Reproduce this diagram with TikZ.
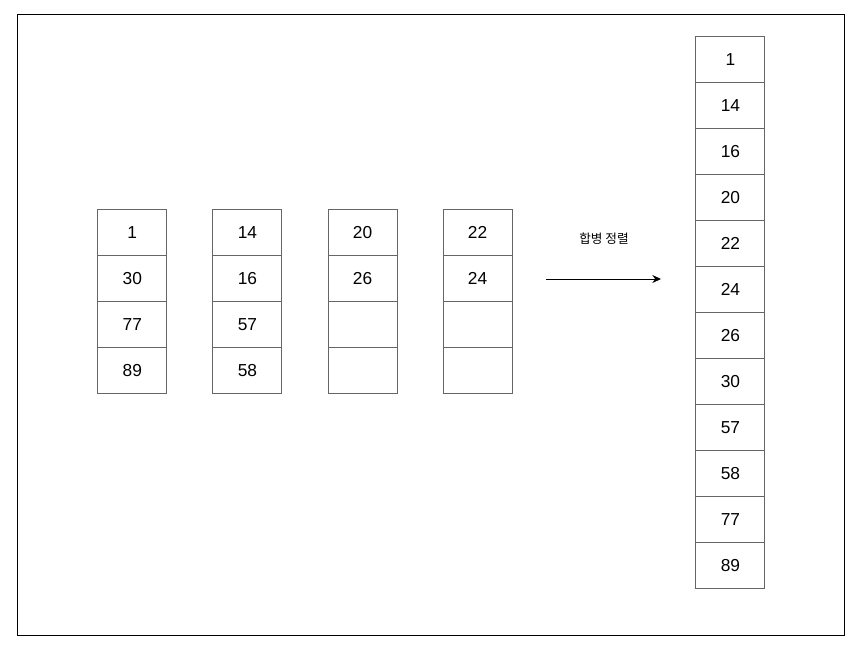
\documentclass[tikz,border=0pt]{standalone}
\usepackage{fontspec}
\setmainfont{Liberation Sans}
\newfontfamily\krfont{Noto Sans CJK KR}
\usetikzlibrary{positioning,arrows.meta}
\definecolor{cellGray}{RGB}{102, 102, 102}
\definecolor{darkText}{RGB}{0, 0, 0}

\begin{document}
\begin{tikzpicture}[x=0.75pt,y=-0.75pt,
    cellbox/.style={draw=cellGray,line width=0.75pt,minimum width=51.75pt,minimum height=34.5pt,
                    inner sep=0pt,outer sep=0pt,font=\fontsize{13}{15}\selectfont,text=darkText},
    mergearrow/.style={-{Stealth[length=6.5pt,width=6pt]},line width=0.75pt}]
        \useasboundingbox (0,0) rectangle (859,654);
        \node[draw=black,line width=0.75pt,minimum width=620.25pt,minimum height=465.75pt,
              inner sep=0pt] (frame) at (431,324.5) {};

        % four runs
        \foreach \v [count=\i] in {1,30,77,89}
            \node[cellbox] (a\i) at (132.3,{209.5+23+46*(\i-1)}) {\v};
        \foreach \v [count=\i] in {14,16,57,58}
            \node[cellbox] (b\i) at (247.4,{209.5+23+46*(\i-1)}) {\v};
        \foreach \v [count=\i] in {20,26,{},{}}
            \node[cellbox] (c\i) at (362.5,{209.5+23+46*(\i-1)}) {\v};
        \foreach \v [count=\i] in {22,24,{},{}}
            \node[cellbox] (d\i) at (477.5,{209.5+23+46*(\i-1)}) {\v};

        % merged result
        \foreach \v [count=\i] in {1,14,16,20,22,24,26,30,57,58,77,89}
            \node[cellbox] (m\i) at (730.4,{36.7+23+46*(\i-1)}) {\v};

        \coordinate (arrowStart) at (546,279);
        \coordinate (arrowEnd) at (661,279);
        \draw[mergearrow] (arrowStart) -- (arrowEnd);
        \node[font=\krfont\fontsize{9.5}{11}\selectfont] (mergeLabel) at (604,239) {합병 정렬};
    \end{tikzpicture}
\end{document}
